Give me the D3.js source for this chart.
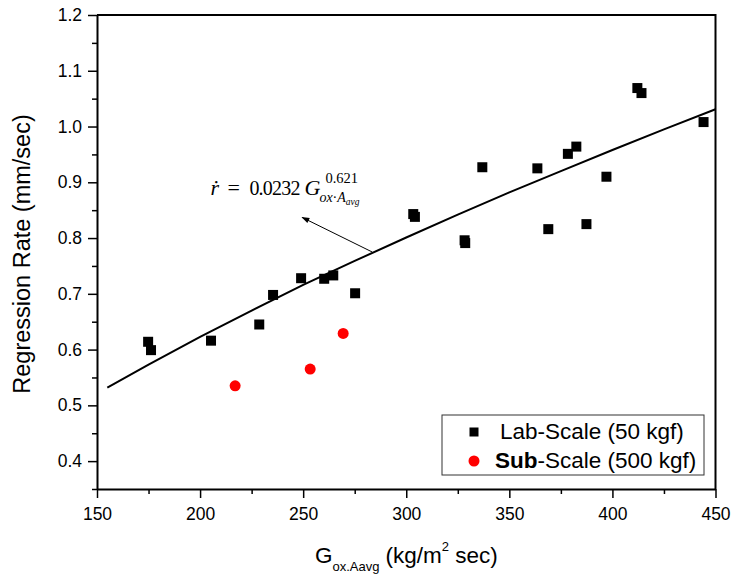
<!DOCTYPE html>
<html><head><meta charset="utf-8">
<script src="https://cdn.jsdelivr.net/npm/d3@7"></script>
<style>body{margin:0;background:#fff} svg{display:block}</style>
</head><body><svg id="c" width="737" height="580"></svg>
<script>
// ---- data ----
const xMajorTicks = [150, 200, 250, 300, 350, 400, 450];
const yMajorTicks = [0.4, 0.5, 0.6, 0.7, 0.8, 0.9, 1.0, 1.1, 1.2];
const labG = [174.8, 176.2, 205.3, 228.7, 235.4, 249.0, 260.2, 264.6, 275.2, 303.4, 304.2, 328.3, 328.6, 336.9, 363.6, 368.9, 378.4, 382.5, 387.4, 397.1, 412.1, 414.1, 444.2];
const labR = [0.614, 0.599, 0.616, 0.645, 0.698, 0.728, 0.727, 0.733, 0.701, 0.843, 0.838, 0.796, 0.791, 0.927, 0.925, 0.816, 0.951, 0.964, 0.825, 0.910, 1.069, 1.060, 1.008];
const subG = [217.0, 253.4, 269.4];
const subR = [0.535, 0.565, 0.629];
const fitG = [155, 175, 200, 225, 250, 275, 300, 325, 350, 375, 400, 425, 450];
const fitR = [0.532, 0.573, 0.623, 0.670, 0.716, 0.759, 0.801, 0.842, 0.882, 0.920, 0.958, 0.995, 1.031];
const seriesNames = ["Lab-Scale (50 kgf)", "Sub-Scale (500 kgf)"];
const arrowFrom = [283.5, 0.775];
const arrowTo = [249.5, 0.837];
const eqAnchor = [205, 0.877];

// ---- layout ----
const svg = d3.select("#c");
const x = d3.scaleLinear().domain([150, 450]).range([97, 715.5]);
const y = d3.scaleLinear().domain([0.35, 1.2]).range([489, 15]);
const sans = "'Liberation Sans', Arial, sans-serif";
const serif = "'Liberation Serif', 'Times New Roman', serif";

svg.append("rect").attr("width", 737).attr("height", 580).attr("fill", "#fff");

// frame top/right
svg.append("path")
  .attr("d", `M${x(150)},${y(1.2)}H${x(450)}V${y(0.35)}`)
  .attr("fill", "none").attr("stroke", "#000").attr("stroke-width", 2);

// minor ticks
const xMinor = d3.range(175, 450, 50);
const yMinor = d3.range(0.35, 1.2, 0.1).map(v => +v.toFixed(2));
svg.append("g").attr("transform", `translate(0,${y(0.35)})`)
  .call(d3.axisBottom(x).tickValues(xMinor).tickSize(5).tickFormat(""))
  .call(g => g.select(".domain").remove())
  .call(g => g.selectAll("line").attr("stroke-width", 1.5));
svg.append("g").attr("transform", `translate(${x(150)},0)`)
  .call(d3.axisLeft(y).tickValues(yMinor).tickSize(5).tickFormat(""))
  .call(g => g.select(".domain").remove())
  .call(g => g.selectAll("line").attr("stroke-width", 1.5));

// major axes
const xAxis = svg.append("g").attr("transform", `translate(0,${y(0.35)})`)
  .call(d3.axisBottom(x).tickValues(xMajorTicks).tickSize(9).tickPadding(10).tickSizeOuter(0));
const yAxis = svg.append("g").attr("transform", `translate(${x(150)},0)`)
  .call(d3.axisLeft(y).tickValues(yMajorTicks).tickSize(9).tickPadding(6).tickSizeOuter(0).tickFormat(d3.format(".1f")));
[xAxis, yAxis].forEach(g => {
  g.select(".domain").attr("stroke-width", 2);
  g.selectAll("line").attr("stroke-width", 1.5);
  g.selectAll("text").attr("font-family", sans).attr("font-size", 17.5).attr("fill", "#000");
});

// fit line
svg.append("path")
  .datum(fitG.map((g, i) => [g, fitR[i]]))
  .attr("d", d3.line().x(d => x(d[0])).y(d => y(d[1])))
  .attr("fill", "none").attr("stroke", "#000").attr("stroke-width", 2);

// lab-scale squares
const sq = 10;
svg.append("g").selectAll("rect")
  .data(labG.map((g, i) => [g, labR[i]]))
  .join("rect")
  .attr("x", d => x(d[0]) - sq / 2).attr("y", d => y(d[1]) - sq / 2)
  .attr("width", sq).attr("height", sq).attr("fill", "#000");

// sub-scale circles
svg.append("g").selectAll("circle")
  .data(subG.map((g, i) => [g, subR[i]]))
  .join("circle")
  .attr("cx", d => x(d[0])).attr("cy", d => y(d[1])).attr("r", 5.5).attr("fill", "#f00");

// arrow
svg.append("defs").append("marker")
  .attr("id", "ah").attr("viewBox", "0 0 10 10").attr("refX", 9).attr("refY", 5)
  .attr("markerWidth", 10).attr("markerHeight", 8).attr("markerUnits", "userSpaceOnUse")
  .attr("orient", "auto")
  .append("path").attr("d", "M0,1.5L10,5L0,8.5Z").attr("fill", "#000");
svg.append("line")
  .attr("x1", x(arrowFrom[0])).attr("y1", y(arrowFrom[1]))
  .attr("x2", x(arrowTo[0])).attr("y2", y(arrowTo[1]))
  .attr("stroke", "#000").attr("stroke-width", 1).attr("marker-end", "url(#ah)");

// equation
const ex = x(eqAnchor[0]), ey = y(eqAnchor[1]);
const eq = svg.append("g").attr("font-family", serif).attr("fill", "#000");
eq.append("text").attr("x", ex).attr("y", ey).attr("font-size", 22).attr("font-style", "italic").text("ṙ");
eq.append("text").attr("x", ex + 17).attr("y", ey).attr("font-size", 22).text("=");
eq.append("text").attr("x", ex + 39).attr("y", ey).attr("font-size", 20).attr("letter-spacing", -0.8).text("0.0232");
eq.append("text").attr("x", ex + 94).attr("y", ey).attr("font-size", 22).attr("font-style", "italic").text("G");
eq.append("text").attr("x", ex + 115).attr("y", ey - 12).attr("font-size", 14.5).text("0.621");
const sub = eq.append("text").attr("x", ex + 109).attr("y", ey + 7).attr("font-size", 14).attr("font-style", "italic");
sub.append("tspan").text("ox");
sub.append("tspan").attr("font-style", "normal").text("·");
sub.append("tspan").text("A");
sub.append("tspan").attr("font-size", 9.5).attr("dy", 3).text("avg");

// axis titles
const xt = svg.append("text").attr("x", x(150) + 218).attr("y", 563)
  .attr("font-family", sans).attr("font-size", 22.5).attr("fill", "#000");
xt.append("tspan").text("G");
xt.append("tspan").attr("font-size", 13).attr("dy", 8).text("ox.Aavg");
xt.append("tspan").attr("dy", -8).attr("dx", 6).text("(kg/m");
xt.append("tspan").attr("font-size", 13).attr("dy", -12).text("2");
xt.append("tspan").attr("dy", 12).text(" sec)");

svg.append("text")
  .attr("transform", `translate(30,${254}) rotate(-90)`)
  .attr("text-anchor", "middle").attr("font-family", sans).attr("font-size", 23.5).attr("fill", "#000")
  .text("Regression Rate (mm/sec)");

// legend
const lg = svg.append("g").attr("transform", "translate(442,415)");
lg.append("rect").attr("width", 262).attr("height", 60).attr("fill", "#fff").attr("stroke", "#333").attr("stroke-width", 1);
lg.append("rect").attr("x", 32 - 4.5).attr("y", 17 - 4.5).attr("width", 9).attr("height", 9).attr("fill", "#000");
lg.append("circle").attr("cx", 32).attr("cy", 46).attr("r", 5.5).attr("fill", "#f00");
lg.append("text").attr("x", 58).attr("y", 24).attr("font-family", sans).attr("font-size", 22.5).attr("fill", "#000").text(seriesNames[0]);
const t2 = lg.append("text").attr("x", 53).attr("y", 53).attr("font-family", sans).attr("font-size", 22.5).attr("fill", "#000");
t2.append("tspan").attr("font-weight", "bold").text(seriesNames[1].slice(0, 3));
t2.append("tspan").text(seriesNames[1].slice(3));
</script></body></html>
